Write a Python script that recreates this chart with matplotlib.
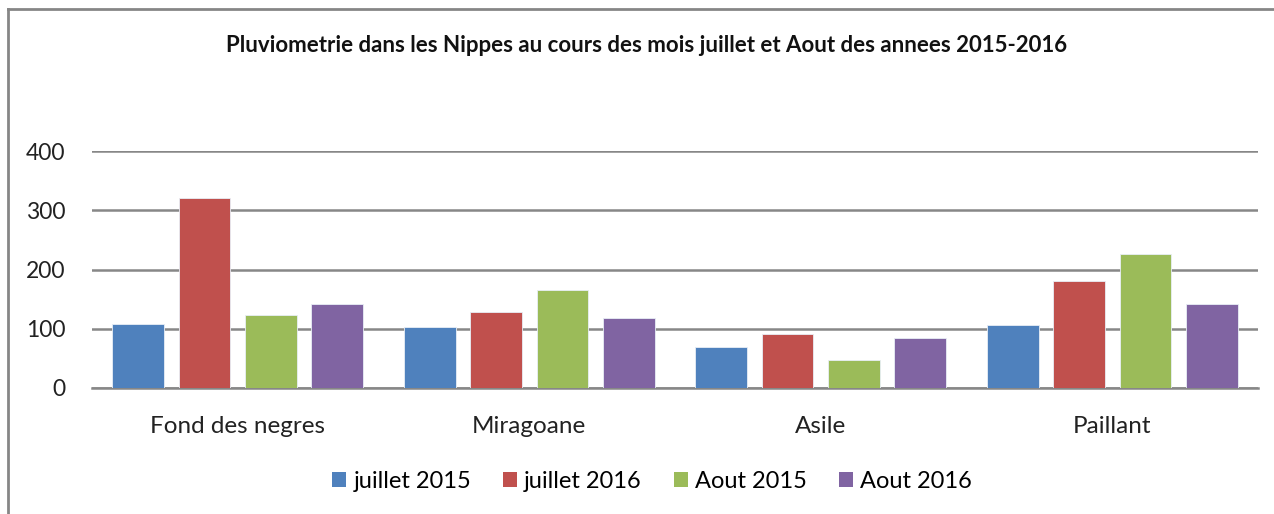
import matplotlib
matplotlib.use("Agg")
import matplotlib.pyplot as plt
import numpy as np
from matplotlib.patches import Rectangle
from matplotlib.lines import Line2D

categories = ["Fond des negres", "Miragoane", "Asile", "Paillant"]
series_names = ["juillet 2015", "juillet 2016", "Aout 2015", "Aout 2016"]
juillet_2015 = [108, 103, 69, 106]
juillet_2016 = [320, 129, 91, 181]
aout_2015 = [123, 166, 47, 227]
aout_2016 = [142, 118, 84, 141]
colors = ["#4F81BD", "#C0504D", "#9BBB59", "#8064A2"]
yticks = [0, 100, 200, 300, 400]
title = "Pluviometrie dans les Nippes au cours des mois juillet et Aout des annees 2015-2016"

plt.rcParams['font.family'] = ['Lato', 'DejaVu Sans']

fig = plt.figure(figsize=(12.74, 5.14), dpi=100)
ax = fig.add_axes([92/1274, 1-388/514, (1258-92)/1274, (388-151)/514])

series = [juillet_2015, juillet_2016, aout_2015, aout_2016]
x = np.arange(len(categories))
pitch = 0.228
width = 0.178
for i, (vals, c, name) in enumerate(zip(series, colors, series_names)):
    ax.bar(x + (i - 1.5) * pitch, vals, width=width, color=c, edgecolor="#e8eef6",
           linewidth=0.6, label=name, zorder=3)

ax.set_xlim(-0.5, len(categories) - 0.5)
ax.set_ylim(0, 400)
ax.set_yticks(yticks)
ax.set_yticklabels([str(v) for v in yticks], fontsize=16.5, color="#222222")
ax.set_xticks(x)
ax.set_xticklabels(categories, fontsize=17.5, color="#222222")
ax.tick_params(axis='y', length=0, pad=19)
ax.tick_params(axis='x', length=0, pad=20)
ax.grid(axis='y', color="#878787", linewidth=1.8, zorder=0)
for s in ["top", "right", "left"]:
    ax.spines[s].set_visible(False)
ax.spines["bottom"].set_color("#878787")
ax.spines["bottom"].set_linewidth(1.8)

fig.text(647/1274, 1-45/514, title, ha="center", va="center", fontsize=16,
         fontweight="bold", color="#111111")

handles = [Rectangle((0, 0), 1, 1, facecolor=c, edgecolor="none") for c in colors]
fig.legend(handles, series_names, loc="center", bbox_to_anchor=(652/1274, 1-481/514),
           ncol=4, frameon=False, fontsize=17, handlelength=0.6, handleheight=0.6,
           handletextpad=0.3, columnspacing=1.35)

# outer chart border (top and left visible)
fig.add_artist(Line2D([8/1274, 1], [1-9/514, 1-9/514], color="#868686", linewidth=2,
                      transform=fig.transFigure))
fig.add_artist(Line2D([8/1274, 8/1274], [0, 1-9/514], color="#868686", linewidth=2,
                      transform=fig.transFigure))

fig.savefig("out.png", dpi=100)
